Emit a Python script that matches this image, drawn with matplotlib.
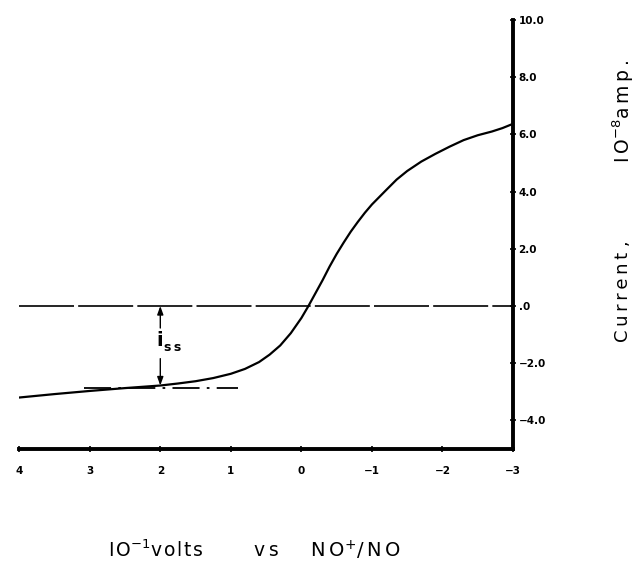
import matplotlib.pyplot as plt

# potential (10^-1 volts vs NO+/NO) and current (10^-8 amp)
volts = [4.0, 3.5, 3.0, 2.5, 2.0, 1.75, 1.5, 1.25, 1.0, 0.8, 0.6, 0.45, 0.3, 0.15,
         0.0, -0.1, -0.2, -0.3, -0.4, -0.5, -0.6, -0.7, -0.8, -0.9, -1.0, -1.1,
         -1.2, -1.35, -1.5, -1.7, -1.9, -2.1, -2.3, -2.5, -2.7, -2.85, -3.0]
current = [-3.2, -3.08, -2.97, -2.87, -2.78, -2.71, -2.63, -2.52, -2.37, -2.2, -1.96,
           -1.7, -1.38, -0.95, -0.42, 0.0, 0.45, 0.9, 1.38, 1.82, 2.22, 2.6, 2.94,
           3.26, 3.55, 3.8, 4.05, 4.42, 4.72, 5.05, 5.32, 5.57, 5.8, 5.97, 6.1,
           6.22, 6.37]

x_ticks = [4, 3, 2, 1, 0, -1, -2, -3]
x_labels = ["4", "3", "2", "1", "0", "\u22121", "\u22122", "\u22123"]
y_ticks = [10, 8, 6, 4, 2, 0, -2, -4]
y_labels = ["10.0", "8.0", "6.0", "4.0", "2.0", ".0", "\u22122.0", "\u22124.0"]

i_ss_x = 2.0
i_ss_low = -2.78
base_x = [3.08, 0.9]
base_y = -2.85

ts = "\u2009"  # thin space
hs = "\u200a"  # hair space


def spaced(s, sep=ts):
    return sep.join(s)


fig = plt.figure(figsize=(6.4, 5.66), dpi=100)
ax = fig.add_axes([0.030, 0.2067, 0.7716, 0.7580])

ax.plot(volts, current, color="black", lw=1.6)
ax.axhline(0, color="black", lw=1.2, dashes=(33, 2.5))
ax.plot(base_x, [base_y, base_y], color="black", lw=1.3, dashes=(15, 4, 1.5, 4))

# i_ss double arrow with a gap for the label
arrow = dict(arrowstyle="-|>,head_length=0.5,head_width=0.18", color="black", lw=1.0,
             shrinkA=0, shrinkB=0)
ax.annotate("", xy=(i_ss_x, 0), xytext=(i_ss_x, -0.77), arrowprops=arrow)
ax.annotate("", xy=(i_ss_x, i_ss_low), xytext=(i_ss_x, -1.84), arrowprops=arrow)
ax.text(2.01, -1.2, "i", fontsize=14, fontweight="bold", ha="center", va="center")
ax.text(1.83, -1.46, spaced("ss"), fontsize=9, fontweight="bold", ha="center",
        va="center")

ax.set_xlim(4, -3)
ax.set_ylim(-5, 10)

for side in ["left", "top"]:
    ax.spines[side].set_visible(False)
ax.spines["right"].set_linewidth(2.8)
ax.spines["bottom"].set_linewidth(2.8)

ax.yaxis.tick_right()
ax.set_yticks(y_ticks)
ax.set_yticklabels(y_labels, fontsize=7.5, fontweight="bold")
ax.set_xticks(x_ticks)
ax.set_xticklabels(x_labels, fontsize=7.5, fontweight="bold")
ax.tick_params(axis="y", direction="inout", length=4, width=1.2, pad=2)
ax.tick_params(axis="x", direction="inout", length=4, width=1.2, pad=10)

# axis titles, letter-spaced
fig.text(0.974, 0.396, spaced("Current") + " ,", rotation=90, fontsize=13,
         ha="center", va="bottom", family="DejaVu Sans")
fig.text(0.974, 0.894, "I" + ts + "O$^{\\mathregular{-8}}$" + spaced("amp."),
         rotation=90, fontsize=13.5, ha="center", va="top", family="DejaVu Sans")

fig.text(0.169, 0.028, "I" + hs + "O$^{\\mathregular{-1}}$" + spaced("volts", hs),
         fontsize=13.5, ha="left", va="center", family="DejaVu Sans")
fig.text(0.416, 0.028, spaced("vs"), fontsize=13.5, ha="center", va="center",
         family="DejaVu Sans")
fig.text(0.484, 0.028, spaced("NO") + "$^{\\mathregular{+}}$/" + ts + spaced("NO"),
         fontsize=14, ha="left", va="center", family="DejaVu Sans")

fig.savefig("out.png", dpi=100)
